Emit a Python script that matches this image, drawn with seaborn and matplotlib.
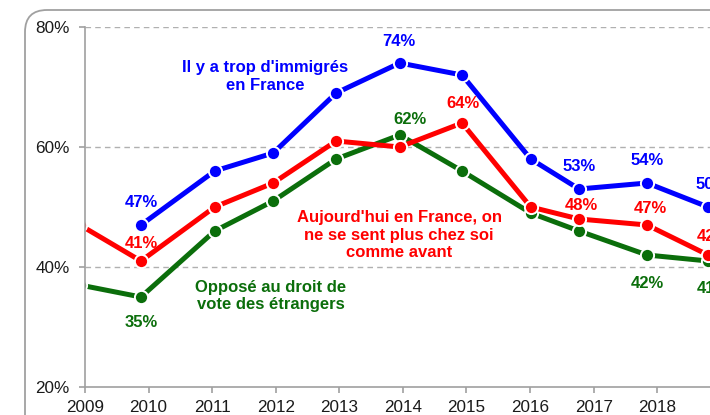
import pandas as pd
import numpy as np
import seaborn as sns
import matplotlib.pyplot as plt
from matplotlib.patches import FancyBboxPatch
from matplotlib.transforms import IdentityTransform

# survey dates (fraction of year) and values in %
dates_blue = [2009.88, 2011.04, 2011.96, 2012.95, 2013.95, 2014.93, 2016.01, 2016.77, 2017.84, 2018.80]
trop_immigres = [47, 56, 59, 69, 74, 72, 58, 53, 54, 50]

dates_other = [2008.92, 2009.88, 2011.04, 2011.96, 2012.95, 2013.95, 2014.93, 2016.01, 2016.77, 2017.84, 2018.80]
chez_soi = [47, 41, 50, 54, 61, 60, 64, 50, 48, 47, 42]
vote_etrangers = [37, 35, 46, 51, 58, 62, 56, 49, 46, 42, 41]

series_names = ["Opposé au droit de\nvote des étrangers",
                "Aujourd'hui en France, on\nne se sent plus chez soi\ncomme avant",
                "Il y a trop d'immigrés\nen France"]
colors = ["#0b6e0b", "#ff0000", "#0000ff"]

years = list(range(2009, 2019))
yticks = [20, 40, 60, 80]

df = pd.concat([
    pd.DataFrame({"date": dates_other, "pct": vote_etrangers, "serie": series_names[0]}),
    pd.DataFrame({"date": dates_other, "pct": chez_soi, "serie": series_names[1]}),
    pd.DataFrame({"date": dates_blue, "pct": trop_immigres, "serie": series_names[2]}),
])

sns.set_style("white")
plt.rcParams['font.family'] = ['Liberation Sans', 'DejaVu Sans']

fig = plt.figure(figsize=(7.1, 4.15), dpi=100)
ax = fig.add_axes([85 / 710, 28 / 415, 1 - 85 / 710, (387 - 27) / 415])

sns.lineplot(data=df, x="date", y="pct", hue="serie", hue_order=series_names,
             palette=colors, ax=ax, legend=False, sort=True,
             linewidth=3.6, marker="o", markersize=9.5,
             markeredgecolor="white", markeredgewidth=1.4)

ax.set_xlim(2009, 2018.83)
ax.set_ylim(20, 80)
ax.set_xticks(years)
ax.set_xticklabels([str(y) for y in years], fontsize=12.3, color="#1a1a1a")
ax.set_yticks(yticks)
ax.set_yticklabels([f"{v}%" for v in yticks], fontsize=12.3, color="#1a1a1a")
ax.set_xlabel("")
ax.set_ylabel("")
for v in [40, 60, 80]:
    ax.axhline(v, color="#b0b0b0", lw=1, ls=(0, (4, 3)), zorder=0)
for s in ["top", "right"]:
    ax.spines[s].set_visible(False)
for s in ["left", "bottom"]:
    ax.spines[s].set_color("#a0a0a0")
    ax.spines[s].set_linewidth(1.2)
ax.tick_params(axis="both", length=4, width=1.2, color="#a0a0a0", direction="out",
               bottom=True, left=True)
ax.tick_params(axis="y", pad=7)
ax.tick_params(axis="x", pad=5.5)

# point labels
lab = dict(fontsize=12, fontweight="bold", ha="center", va="center")
ax.text(2009.88, 50.7, "47%", color=colors[2], **lab)
ax.text(2009.88, 44.0, "41%", color=colors[1], **lab)
ax.text(2009.88, 30.7, "35%", color=colors[0], **lab)
ax.text(2013.94, 77.5, "74%", color=colors[2], **lab)
ax.text(2014.11, 64.5, "62%", color=colors[0], **lab)
ax.text(2014.94, 67.3, "64%", color=colors[1], **lab)
ax.text(2016.77, 56.8, "53%", color=colors[2], **lab)
ax.text(2016.80, 50.2, "48%", color=colors[1], **lab)
ax.text(2017.84, 57.7, "54%", color=colors[2], **lab)
ax.text(2017.90, 49.8, "47%", color=colors[1], **lab)
ax.text(2017.84, 37.3, "42%", color=colors[0], **lab)
# labels of the last survey, cut by the right edge as in the original
edge = dict(fontsize=12, fontweight="bold", ha="left", va="center")
ax.text(2018.60, 53.7, "50%", color=colors[2], **edge)
ax.text(2018.62, 45.1, "42%", color=colors[1], **edge)
ax.text(2018.62, 36.5, "41%", color=colors[0], **edge)

# series labels
ax.text(2011.83, 71.75, series_names[2], color=colors[2], **lab)
ax.text(2013.94, 45.3, series_names[1], color=colors[1], **lab)
ax.text(2011.92, 35.2, series_names[0], color=colors[0], **lab)

# rounded frame around the chart
frame = FancyBboxPatch((25, -40), 760, 415 - 10 + 40, boxstyle="round,pad=0,rounding_size=22",
                       transform=IdentityTransform(), fill=False, edgecolor="#a0a0a0", lw=1.3)
fig.add_artist(frame)

fig.savefig("out.png", dpi=100)
